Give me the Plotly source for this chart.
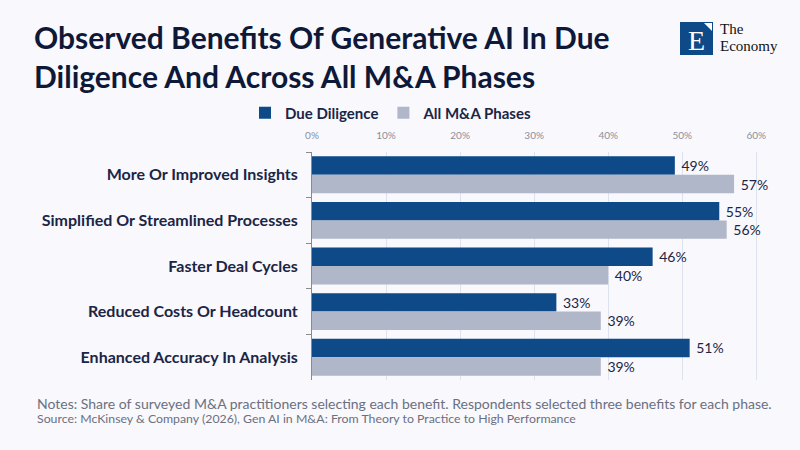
import plotly.graph_objects as go

categories = ["More Or Improved Insights", "Simplified Or Streamlined Processes",
              "Faster Deal Cycles", "Reduced Costs Or Headcount",
              "Enhanced Accuracy In Analysis"]
due_diligence = [49, 55, 46, 33, 51]
all_phases = [57, 56, 40, 39, 39]
series_names = ["Due Diligence", "All M&A Phases"]
tick_vals = [0, 10, 20, 30, 40, 50, 60]
tick_text = ["0%", "10%", "20%", "30%", "40%", "50%", "60%"]
title_lines = ["Observed Benefits Of Generative AI In Due", "Diligence And Across All M&A Phases"]

BG = "#F8F8FD"
DARK = "#0D4A87"
GREY = "#B0B7C8"
TXT = "#1B2545"
FONT = "Lato"

W, H = 800, 450
L, R, T, B = 312, 760, 152, 380

def px(x):
    return (x - L) / (R - L)

def py(y):
    return (B - y) / (B - T)

fig = go.Figure()
for vals, name, col in [(due_diligence, series_names[0], DARK), (all_phases, series_names[1], GREY)]:
    fig.add_trace(go.Bar(y=categories, x=vals, name=name, orientation="h",
                         marker=dict(color=col, line=dict(width=0)),
                         text=[f" {v}%" for v in vals], textposition="outside",
                         constraintext="none", cliponaxis=False,
                         textfont=dict(size=14, color=TXT, family=FONT)))

fig.update_layout(
    width=W, height=H,
    paper_bgcolor=BG, plot_bgcolor=BG,
    margin=dict(l=L, r=W - R, t=T, b=H - B, pad=0),
    barmode="group", bargap=0.19, bargroupgap=0,
    font=dict(family=FONT, color=TXT),
    showlegend=True,
    legend=dict(orientation="h", x=px(245), y=py(113), xanchor="left", yanchor="middle",
                font=dict(size=15, color=TXT, family=FONT, weight="bold"),
                bgcolor="rgba(0,0,0,0)", traceorder="normal"),
    xaxis=dict(side="top", range=[0, 60.5], tickvals=tick_vals, ticktext=tick_text,
               showgrid=True, gridcolor="#DCE2EE", gridwidth=1, zeroline=False,
               showline=False, ticks="", tickfont=dict(size=10, color="#8A8F9C", family=FONT),
               ticklabelstandoff=10, fixedrange=True),
    yaxis=dict(autorange="reversed", tickson="boundaries", ticks="outside", ticklen=5,
               tickcolor="#8A8A8A", showline=True, linecolor="#8A8A8A", linewidth=1,
               showgrid=False, tickfont=dict(size=16, color=TXT, family=FONT, weight="bold"),
               ticklabelstandoff=10, fixedrange=True),
)

# Title
fig.add_annotation(xref="paper", yref="paper", x=px(32), y=py(56), xanchor="left", yanchor="middle",
                   text="<b>" + "<br>".join(title_lines) + "</b>", showarrow=False, align="left",
                   font=dict(size=30, color="#0E1838", family=FONT))

# Notes and source
fig.add_annotation(xref="paper", yref="paper", x=px(35), y=py(403), xanchor="left", yanchor="middle",
                   text="Notes: Share of surveyed M&A practitioners selecting each benefit. Respondents selected three benefits for each phase.",
                   showarrow=False, font=dict(size=14, color="#6B7080", family=FONT))
fig.add_annotation(xref="paper", yref="paper", x=px(35), y=py(418), xanchor="left", yanchor="middle",
                   text="Source: McKinsey & Company (2026), Gen AI in M&A: From Theory to Practice to High Performance",
                   showarrow=False, font=dict(size=12.3, color="#6B7080", family=FONT))

# Logo
fig.add_shape(type="rect", xref="paper", yref="paper", x0=px(680), x1=px(713), y0=py(55), y1=py(22),
              fillcolor=DARK, line=dict(width=0))
fig.add_shape(type="path", xref="paper", yref="paper",
              path=f"M {px(704)},{py(23)} L {px(712)},{py(23)} L {px(712)},{py(31)} Z",
              fillcolor="white", line=dict(width=0))
fig.add_annotation(xref="paper", yref="paper", x=px(696), y=py(40), xanchor="center", yanchor="middle",
                   text="E", showarrow=False, font=dict(size=28, color="white", family="Liberation Serif"))
fig.add_annotation(xref="paper", yref="paper", x=px(718), y=py(29), xanchor="left", yanchor="middle",
                   text="The", showarrow=False, font=dict(size=15, color="#111", family="Liberation Serif"))
fig.add_annotation(xref="paper", yref="paper", x=px(718), y=py(46), xanchor="left", yanchor="middle",
                   text="Economy", showarrow=False, font=dict(size=15, color="#111", family="Liberation Serif"))

fig.write_html("out.html", config={"displayModeBar": False},
               post_script="document.body.style.margin='0';document.body.style.background='%s';" % BG)
